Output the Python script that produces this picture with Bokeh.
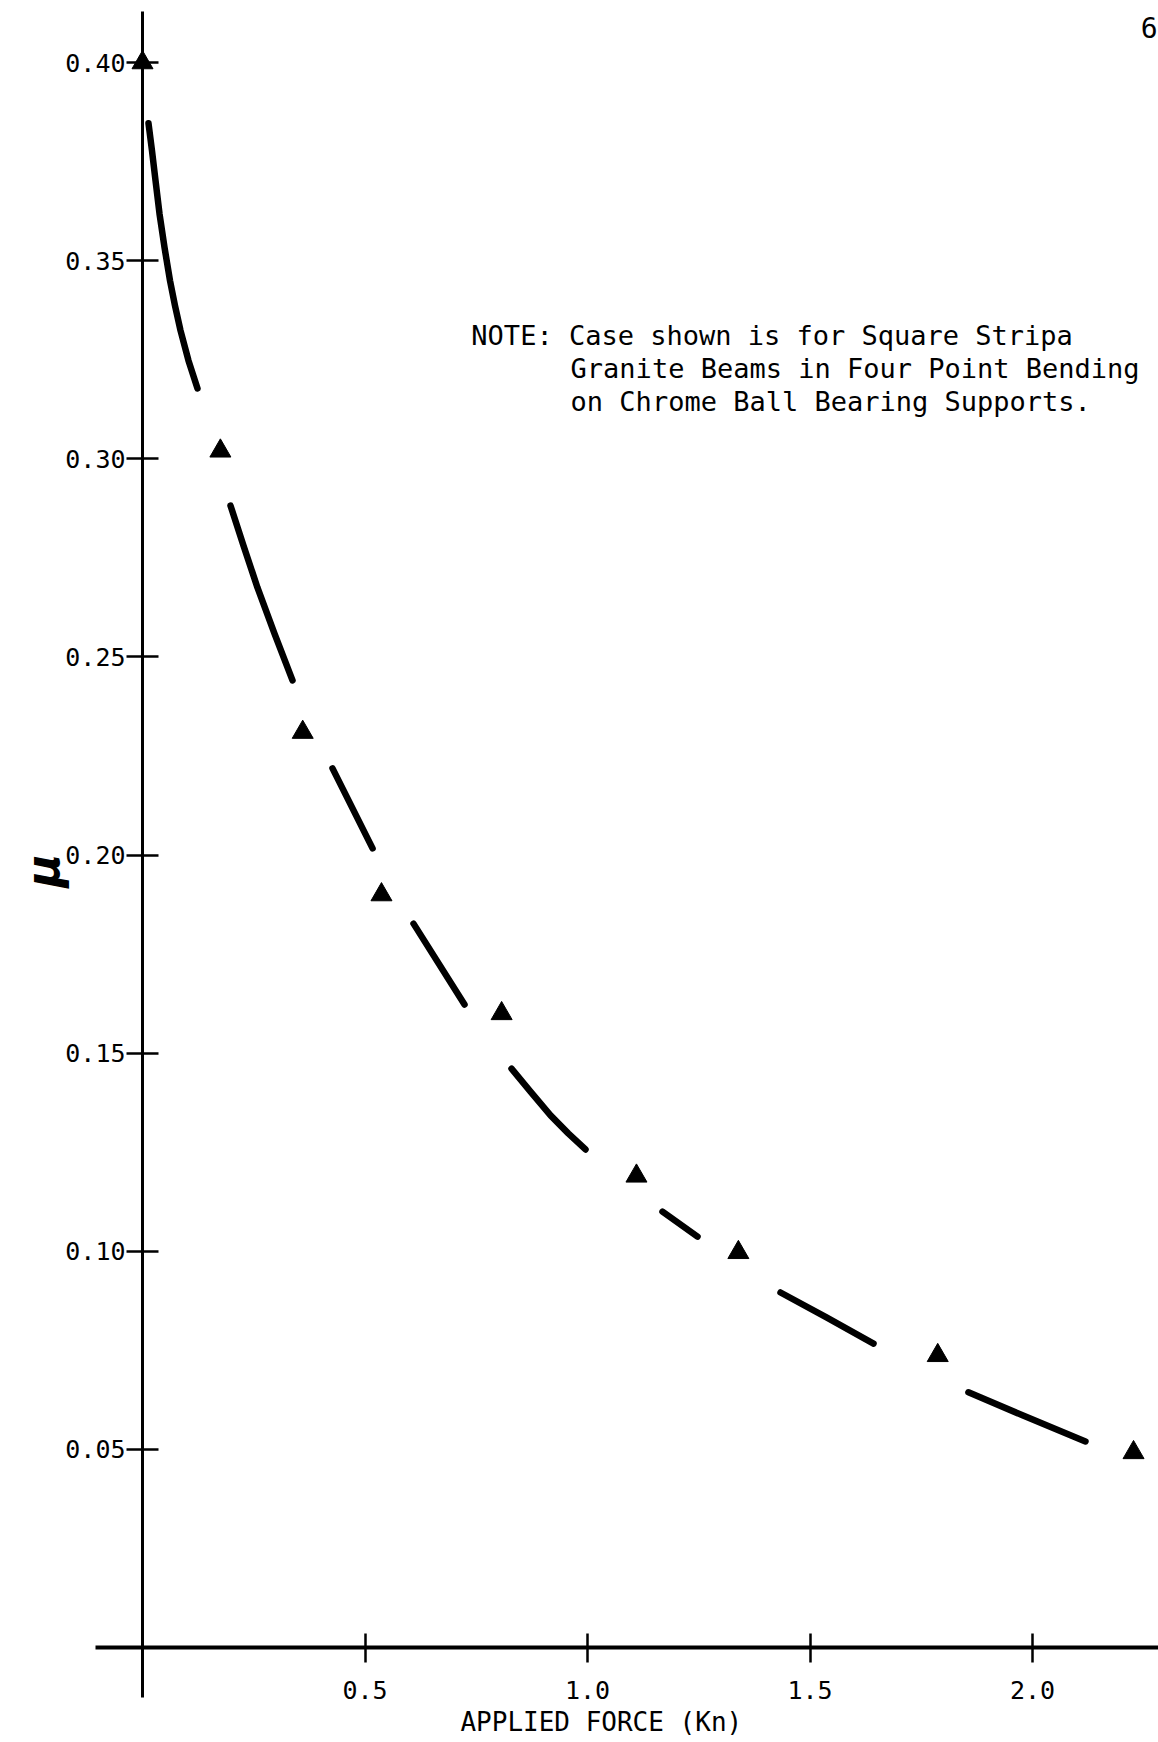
import math
from bokeh.plotting import figure
from bokeh.models import FixedTicker, Range1d, Label
from bokeh.core.properties import value
from bokeh.embed import file_html
from bokeh.resources import INLINE

# measured points (triangles)
force = [0.0, 0.175, 0.360, 0.537, 0.807, 1.110, 1.339, 1.787, 2.227]
mu = [0.400, 0.302, 0.231, 0.190, 0.160, 0.119, 0.0997, 0.0737, 0.0492]

# hand-drawn curve, read segment by segment (gaps at the triangles)
curve_x = [
    [0.0135, 0.0213, 0.0292, 0.0382, 0.0494, 0.0618, 0.0730, 0.0854, 0.1034, 0.1236],
    [0.1978, 0.2270, 0.2584, 0.2966, 0.3371],
    [0.427, 0.517],
    [0.609, 0.7236],
    [0.8292, 0.8719, 0.9169, 0.9573, 0.9955],
    [1.1685, 1.2472],
    [1.4337, 1.537, 1.6427],
    [1.856, 1.9775, 2.119],
]
curve_y = [
    [0.3847, 0.3778, 0.3703, 0.3619, 0.3534, 0.3450, 0.3387, 0.3324, 0.3248, 0.3178],
    [0.2882, 0.2781, 0.2675, 0.2559, 0.2441],
    [0.2219, 0.2017],
    [0.1827, 0.1623],
    [0.1461, 0.1403, 0.1343, 0.1297, 0.1257],
    [0.1100, 0.1037],
    [0.0896, 0.0833, 0.0767],
    [0.0644, 0.0586, 0.0520],
]

x_ticks = [0.5, 1.0, 1.5, 2.0]
x_tick_labels = ["0.5", "1.0", "1.5", "2.0"]
y_ticks = [0.05, 0.10, 0.15, 0.20, 0.25, 0.30, 0.35, 0.40]
y_tick_labels = ["0.05", "0.10", "0.15", "0.20", "0.25", "0.30", "0.35", "0.40"]

x_title = "APPLIED FORCE (Kn)"
y_title = "\u03bc"

note_lines = [
    "NOTE: Case shown is for Square Stripa",
    "Granite Beams in Four Point Bending",
    "on Chrome Ball Bearing Supports.",
]
note_x = [0.739, 0.962, 0.962]
note_y = [0.3311, 0.3228, 0.3145]

MONO = "DejaVu Sans Mono"

p = figure(width=1158, height=1742, output_backend="svg", toolbar_location=None,
           x_range=Range1d(-0.3191, 2.2831), y_range=Range1d(-0.02398, 0.41570),
           min_border_left=0, min_border_right=0, min_border_top=0, min_border_bottom=0)
p.outline_line_color = None
p.grid.visible = False
p.background_fill_color = "white"
p.border_fill_color = "white"

# axes crossing at the origin
p.xaxis.fixed_location = 0
p.yaxis.fixed_location = 0
p.xaxis.bounds = (-0.1056, 2.2831)
p.yaxis.bounds = (-0.0126, 0.4129)

p.xaxis.ticker = FixedTicker(ticks=x_ticks)
p.xaxis.major_label_overrides = dict(zip(x_ticks, x_tick_labels))
p.yaxis.ticker = FixedTicker(ticks=y_ticks)
p.yaxis.major_label_overrides = dict(zip(y_ticks, y_tick_labels))
p.xaxis.minor_tick_line_color = None
p.yaxis.minor_tick_line_color = None

p.xaxis.axis_line_width = 4
p.yaxis.axis_line_width = 3
p.xaxis.axis_line_color = "black"
p.yaxis.axis_line_color = "black"
p.xaxis.major_tick_line_width = 2.5
p.yaxis.major_tick_line_width = 2.5
p.xaxis.major_tick_line_color = "black"
p.yaxis.major_tick_line_color = "black"
p.xaxis.major_tick_in = 14
p.xaxis.major_tick_out = 15
p.yaxis.major_tick_in = 16
p.yaxis.major_tick_out = 16

for ax in (p.xaxis[0], p.yaxis[0]):
    ax.major_label_text_font = MONO
    ax.major_label_text_font_size = "25px"
    ax.major_label_text_color = "black"
p.xaxis.major_label_standoff = 19
p.yaxis.major_label_standoff = 1

# axis titles as text placed where the reference has them
p.text(x=[1.031], y=[-0.0189], text=[x_title], text_font=value(MONO), text_font_size="26px",
       text_align="center", text_baseline="middle", text_color="black")
p.text(x=[-0.2225], y=[0.1961], text=[y_title], angle=math.pi / 2,
       text_font=value("DejaVu Sans"), text_font_size="46px", text_font_style="bold italic",
       text_align="center", text_baseline="alphabetic", text_color="black")

# curve segments
p.multi_line(xs=curve_x, ys=curve_y, line_color="black", line_width=6.5,
             line_cap="round", line_join="round")

# data triangles
p.scatter(force, mu, marker="triangle", size=21, fill_color="black", line_color="black")

# note
p.text(x=note_x, y=note_y, text=note_lines, text_font=value(MONO), text_font_size="27px",
       text_baseline="middle", text_align="left", text_color="black")

# page number at the right edge
p.add_layout(Label(x=2.281, y=0.4088, text="6", text_font=MONO, text_font_size="28px",
                   text_baseline="middle", text_align="right", text_color="black"))

open("out.html", "w").write(file_html(p, INLINE))
